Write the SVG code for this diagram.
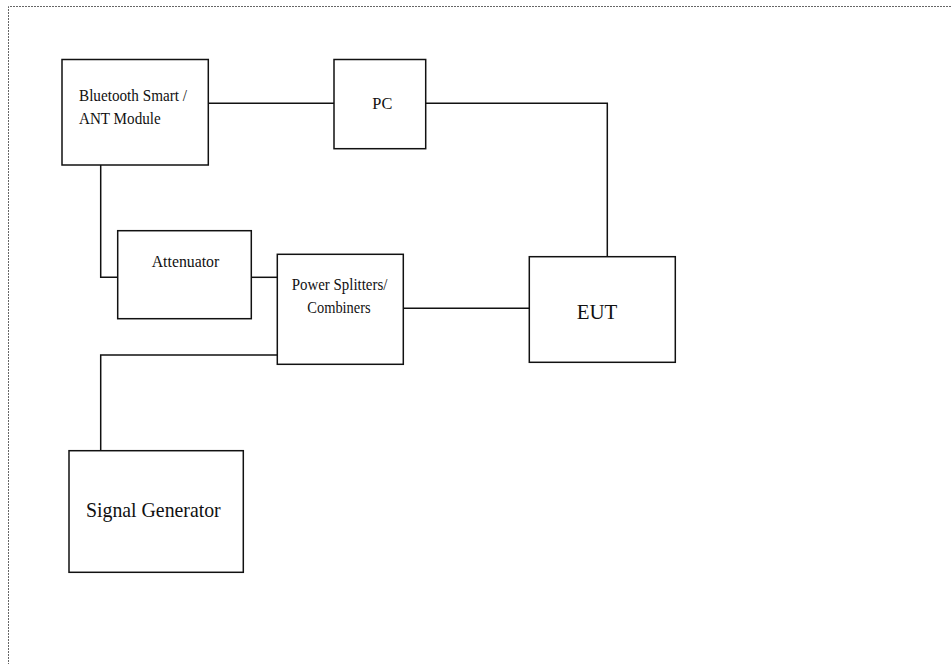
<svg xmlns="http://www.w3.org/2000/svg" width="951" height="664" viewBox="0 0 951 664">
<style>
.box{fill:#fff;stroke:#111;stroke-width:1.5}
.wire{fill:none;stroke:#111;stroke-width:1.5}
.t{font-family:"Liberation Serif","Times New Roman",serif;fill:#111}
.s{font-size:17.5px}
.l{font-size:22px}
.border{fill:none;stroke:#666;stroke-width:1;stroke-dasharray:2 1}
</style>
<rect width="951" height="664" fill="#fff"/>
<path class="border" d="M951,6.5 H8.5 V664"/>
<g id="connectors">
<path class="wire" d="M208,103.3 H334"/>
<path class="wire" d="M426,103.3 H607.3 V257"/>
<path class="wire" d="M100.7,165 V277.3 H118"/>
<path class="wire" d="M251.3,277.3 H277.3"/>
<path class="wire" d="M403.3,308.3 H529.3"/>
<path class="wire" d="M277.3,355 H100.7 V450.7"/>
</g>
<g id="bluetooth">
<rect class="box" x="62" y="59.5" width="146.3" height="105.5"/>
<text class="t s" x="79" y="100.7" textLength="108" lengthAdjust="spacingAndGlyphs">Bluetooth Smart /</text>
<text class="t s" x="79" y="123.7" textLength="81.7" lengthAdjust="spacingAndGlyphs">ANT Module</text>
</g>
<g id="pc">
<rect class="box" x="334" y="59.5" width="91.7" height="89.2"/>
<text class="t s" x="372.3" y="109" textLength="20" lengthAdjust="spacingAndGlyphs">PC</text>
</g>
<g id="attenuator">
<rect class="box" x="117.7" y="230.7" width="133.6" height="88"/>
<text class="t s" x="151.7" y="266.7" textLength="67.6" lengthAdjust="spacingAndGlyphs">Attenuator</text>
</g>
<g id="splitters">
<rect class="box" x="277.3" y="254.3" width="126" height="110"/>
<text class="t s" x="291.7" y="290" textLength="95.7" lengthAdjust="spacingAndGlyphs">Power Splitters/</text>
<text class="t s" x="307.3" y="312.7" textLength="63.4" lengthAdjust="spacingAndGlyphs">Combiners</text>
</g>
<g id="eut">
<rect class="box" x="529.3" y="256.7" width="146" height="105.6"/>
<text class="t l" x="576.7" y="318.7" textLength="40.6" lengthAdjust="spacingAndGlyphs">EUT</text>
</g>
<g id="signal-generator">
<rect class="box" x="69" y="450.7" width="174.3" height="121.6"/>
<text class="t l" x="86" y="517.3" textLength="134.7" lengthAdjust="spacingAndGlyphs">Signal Generator</text>
</g>
</svg>
